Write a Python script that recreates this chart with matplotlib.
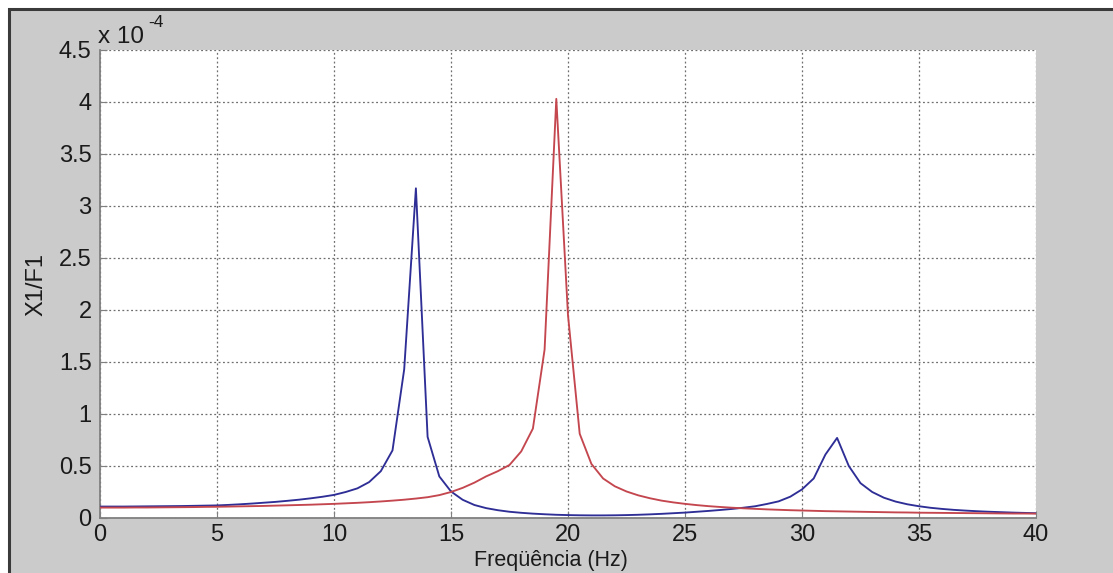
import numpy as np
import matplotlib
matplotlib.use("Agg")
import matplotlib.pyplot as plt
from matplotlib.patches import Rectangle
from matplotlib.ticker import FuncFormatter

# Frequency samples (Hz), 0.5 Hz step
freq = np.arange(0, 40.01, 0.5)

# X1/F1 magnitudes in units of 1e-4
blue_vals = [
    0.110, 0.110, 0.110, 0.111, 0.112, 0.113, 0.114, 0.115, 0.117, 0.119,
    0.121, 0.126, 0.132, 0.139, 0.147, 0.155, 0.165, 0.176, 0.189, 0.204,
    0.222, 0.250, 0.285, 0.345, 0.450, 0.650, 1.430, 3.170, 0.780, 0.400,
    0.255, 0.175, 0.125, 0.095, 0.075, 0.060, 0.050, 0.042, 0.036, 0.031,
    0.028, 0.026, 0.025, 0.025, 0.026, 0.028, 0.031, 0.035, 0.040, 0.046,
    0.052, 0.060, 0.068, 0.077, 0.087, 0.099, 0.113, 0.135, 0.160, 0.205,
    0.275, 0.380, 0.610, 0.770, 0.500, 0.335, 0.250, 0.195, 0.158, 0.132,
    0.113, 0.098, 0.087, 0.078, 0.071, 0.065, 0.060, 0.056, 0.052, 0.049,
    0.046,
]
red_vals = [
    0.100, 0.100, 0.100, 0.101, 0.101, 0.102, 0.103, 0.104, 0.105, 0.107,
    0.108, 0.110, 0.112, 0.114, 0.116, 0.119, 0.122, 0.125, 0.128, 0.132,
    0.136, 0.141, 0.146, 0.152, 0.159, 0.167, 0.176, 0.187, 0.200, 0.220,
    0.250, 0.290, 0.340, 0.400, 0.450, 0.510, 0.640, 0.860, 1.620, 4.030,
    1.950, 0.810, 0.520, 0.380, 0.305, 0.255, 0.218, 0.190, 0.167, 0.150,
    0.136, 0.124, 0.114, 0.106, 0.099, 0.093, 0.088, 0.083, 0.079, 0.075,
    0.072, 0.069, 0.066, 0.064, 0.062, 0.060, 0.058, 0.056, 0.054, 0.053,
    0.051, 0.050, 0.049, 0.048, 0.047, 0.046, 0.045, 0.044, 0.043, 0.043,
    0.042,
]

x_ticks = [0, 5, 10, 15, 20, 25, 30, 35, 40]
y_ticks = [0, 0.5, 1, 1.5, 2, 2.5, 3, 3.5, 4, 4.5]

plt.rcParams['font.family'] = ['Liberation Sans', 'DejaVu Sans']

W, H = 1113, 573
fig = plt.figure(figsize=(W / 100, H / 100), dpi=100)
fig.patch.set_facecolor('white')

# grey MATLAB-like figure panel with dark border (drawn behind the axes)
panel = Rectangle((9 / W, -0.2), 1.2, (H - 9) / H + 0.2,
                  transform=fig.transFigure, facecolor='#cbcbcb',
                  edgecolor='#3a3a3a', linewidth=2.2, zorder=-10)
fig.add_artist(panel)

ax = fig.add_axes([100 / W, (H - 518) / H, 936 / W, 468 / H])
ax.set_zorder(1)
ax.set_facecolor('white')

ax.plot(freq, blue_vals, color='#2e2e96', lw=1.35, zorder=3)
ax.plot(freq, red_vals, color='#c4464e', lw=1.35, zorder=3)

ax.set_xlim(0, 40)
ax.set_ylim(0, 4.5)
ax.set_xticks(x_ticks)
ax.set_yticks(y_ticks)
ax.yaxis.set_major_formatter(FuncFormatter(lambda v, p: f"{v:g}"))
ax.xaxis.set_major_formatter(FuncFormatter(lambda v, p: f"{v:g}"))

ax.grid(True, color='#6e6e6e', linestyle=(0, (1.5, 2.0)), linewidth=0.9)
for s in ['top', 'right']:
    ax.spines[s].set_visible(False)
for s in ['left', 'bottom']:
    ax.spines[s].set_color('#808080')
    ax.spines[s].set_linewidth(1.3)

ax.tick_params(direction='in', length=5, color='#808080', labelsize=17,
               labelcolor='#1a1a1a')
ax.tick_params(axis='y', pad=6)
ax.tick_params(axis='x', pad=4)

ax.set_xlabel('Freqüência (Hz)', fontsize=15.5, color='#1a1a1a')
ax.set_ylabel('X1/F1', fontsize=17, color='#1a1a1a')
ax.xaxis.set_label_coords(0.482, -0.068)
ax.yaxis.set_label_coords(-0.0566, 0.5)

# exponent label
fig.text(98 / W, 1 - 43 / H, 'x 10', fontsize=17.5, color='#1a1a1a',
         ha='left', va='baseline')
fig.text(148 / W, 1 - 27 / H, '-4', fontsize=12.5, color='#1a1a1a',
         ha='left', va='baseline')

fig.savefig('out.png', dpi=100, facecolor=fig.get_facecolor())
